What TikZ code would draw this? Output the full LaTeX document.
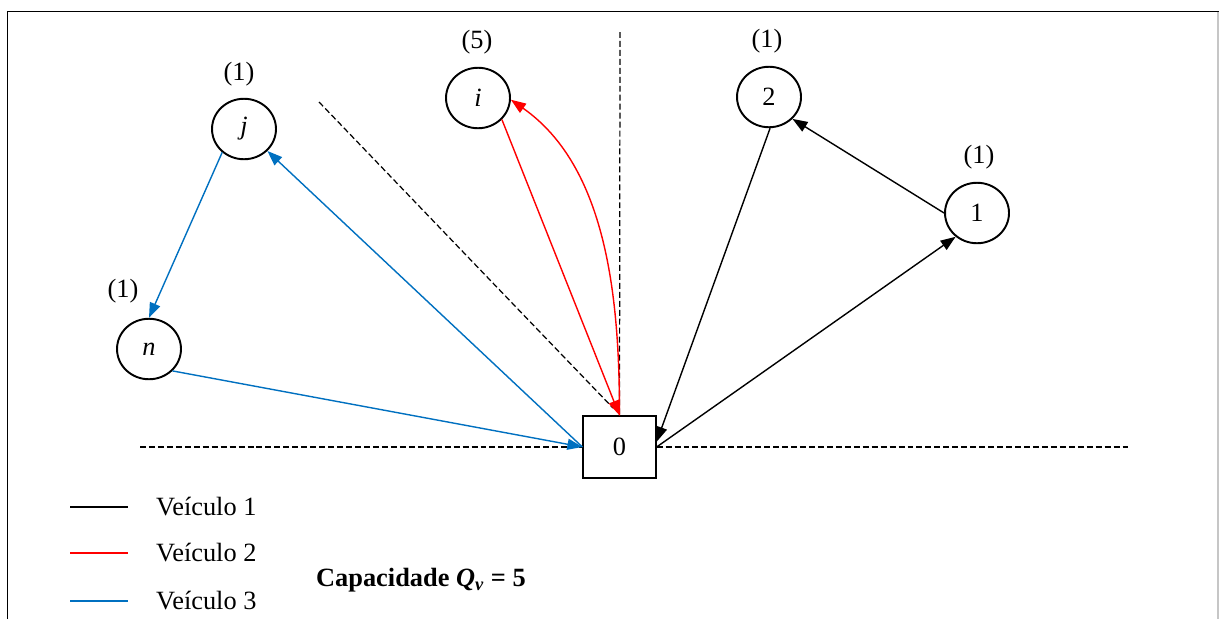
\documentclass[tikz,border=0pt]{standalone}
\usepackage{fontspec}
\setmainfont{Liberation Serif}
\usetikzlibrary{arrows.meta,shapes.geometric}
\definecolor{azul}{RGB}{0,112,192}

\begin{document}
\begin{tikzpicture}[x=0.02cm,y=-0.02cm,
  font=\fontsize{15}{18}\selectfont,
  cust/.style={draw,ellipse,line width=1.1pt,minimum width=1.28cm,minimum height=1.21cm,inner sep=0pt},
  depot/.style={draw,rectangle,line width=0.7pt,minimum width=1.46cm,minimum height=1.24cm},
  route/.style={line width=0.8pt,-{Triangle[length=3mm,width=2.2mm]}},
  rota1/.style={route,black},
  rota2/.style={route,red},
  rota3/.style={route,azul},
  sep/.style={line width=0.7pt,dash pattern=on 3.4pt off 1.7pt}]
\useasboundingbox (0,0) rectangle (1219,619);
% frame
\draw[line width=1.1pt] (7.5,619) -- (7.5,11.5) -- (1219,11.5);
\draw[gray!45,line width=1pt] (1218,11.5) -- (1218,619);

% depot and customers
\node[depot] (dep) at (619.5,447) {0};
\node[cust] (i) at (478,98) {\textit{i}};
\node[cust] (j) at (244,129) {\textit{j}};
\node[cust] (n) at (149,349) {\textit{n}};
\node[cust] (two) at (769,97) {2};
\node[cust] (one) at (977,213) {1};

% demands
\node (di) at (477,42) {(5)};
\node (dj) at (239,74) {(1)};
\node (dn) at (123,291) {(1)};
\node (dtwo) at (767,41) {(1)};
\node (done) at (979,157) {(1)};

% sector lines
\coordinate (hl) at (140,447);
\coordinate (hr) at (1128,447);
\coordinate (vt) at (620,32);
\coordinate (dg) at (319,102);
\coordinate (dgend) at (613,408);
\draw[sep] (hl) -- (dep.west);
\draw[sep] (dep.east) -- (hr);
\draw[sep] (vt) -- (dep.north);
\draw[sep] (dg) -- (dgend);

% routes
\draw[rota1] (dep.east) -- (one.228);
\draw[rota1] (one.west) -- (two.-43);
\draw[rota1] (two.-88) -- (dep.8);
\draw[rota2] (i.-42) -- (dep.north);
\draw[rota2] (dep.north) to[out=90,in=-35,looseness=0.9] (i.-3);
\draw[rota3] (dep.west) -- (j);
\draw[rota3] (j.227) -- (n.north);
\draw[rota3] (n.-43) -- (dep.west);

% legend
\draw[black,line width=0.8pt] (70,507) -- (128,507);
\draw[red,line width=0.8pt] (70,553) -- (128,553);
\draw[azul,line width=0.8pt] (70,601) -- (128,601);
\node[anchor=west] (v1) at (150,507) {Veículo 1};
\node[anchor=west] (v2) at (150,553) {Veículo 2};
\node[anchor=west] (v3) at (150,601) {Veículo 3};
\node[anchor=west] (cap) at (310,580) {\textbf{Capacidade \textit{Q}\textsubscript{\textit{v}} = 5}};
\end{tikzpicture}
\end{document}
